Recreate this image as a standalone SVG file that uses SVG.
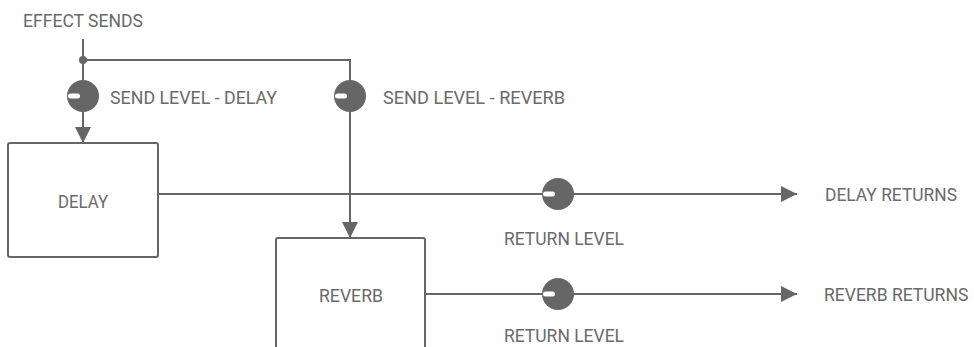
<svg xmlns="http://www.w3.org/2000/svg" width="974" height="347" viewBox="0 0 974 347">
<defs>
<style>
.ln{stroke:#666;stroke-width:2;fill:none}
.box{stroke:#666;stroke-width:2;fill:#fff}
.t{font-family:Roboto,"Liberation Sans",sans-serif;font-size:19px;fill:#6a6a6a}
.knob{fill:#666}
.dash{fill:#fff}
</style>
<marker id="arr" markerWidth="16" markerHeight="16" viewBox="0 0 16 16" refX="16" refY="8" orient="auto" markerUnits="userSpaceOnUse">
<path d="M0,0 L16,8 L0,16 Z" fill="#666"/>
</marker>
<g id="knobdef"><circle r="16" class="knob"/><rect x="-15" y="-2.5" width="12" height="5" rx="2.5" class="dash"/></g>
</defs>
<rect width="974" height="347" fill="#fff"/>
<g id="connectors">
<path class="ln" d="M83,39 V143" marker-end="url(#arr)"/>
<path class="ln" d="M83,60 H350 V238" marker-end="url(#arr)"/>
<circle cx="83" cy="60" r="4" fill="#666"/>
<path class="ln" d="M158,194 H797" marker-end="url(#arr)"/>
<path class="ln" d="M425,294 H797" marker-end="url(#arr)"/>
</g>
<g id="effect-sends"><text class="t" x="23" y="27" textLength="120" lengthAdjust="spacingAndGlyphs">EFFECT SENDS</text></g>
<g id="send-level-delay"><use href="#knobdef" x="83" y="96"/><text class="t" x="110" y="104" textLength="167" lengthAdjust="spacingAndGlyphs">SEND LEVEL - DELAY</text></g>
<g id="send-level-reverb"><use href="#knobdef" x="350" y="96"/><text class="t" x="383" y="104" textLength="182" lengthAdjust="spacingAndGlyphs">SEND LEVEL - REVERB</text></g>
<g id="delay"><rect class="box" x="8" y="143" width="150" height="114" rx="2"/><text class="t" x="58" y="208" textLength="50" lengthAdjust="spacingAndGlyphs">DELAY</text></g>
<g id="reverb"><rect class="box" x="276" y="238" width="149" height="120" rx="2"/><text class="t" x="319" y="302" textLength="64" lengthAdjust="spacingAndGlyphs">REVERB</text></g>
<g id="return-level-delay"><use href="#knobdef" x="558" y="194"/><text class="t" x="504" y="245" textLength="120" lengthAdjust="spacingAndGlyphs">RETURN LEVEL</text></g>
<g id="return-level-reverb"><use href="#knobdef" x="558" y="294"/><text class="t" x="504" y="342" textLength="120" lengthAdjust="spacingAndGlyphs">RETURN LEVEL</text></g>
<g id="delay-returns"><text class="t" x="825" y="201" textLength="132" lengthAdjust="spacingAndGlyphs">DELAY RETURNS</text></g>
<g id="reverb-returns"><text class="t" transform="translate(824,301) scale(0.88,1)" x="0" y="0" textLength="164" lengthAdjust="spacingAndGlyphs">REVERB RETURNS</text></g>
</svg>
